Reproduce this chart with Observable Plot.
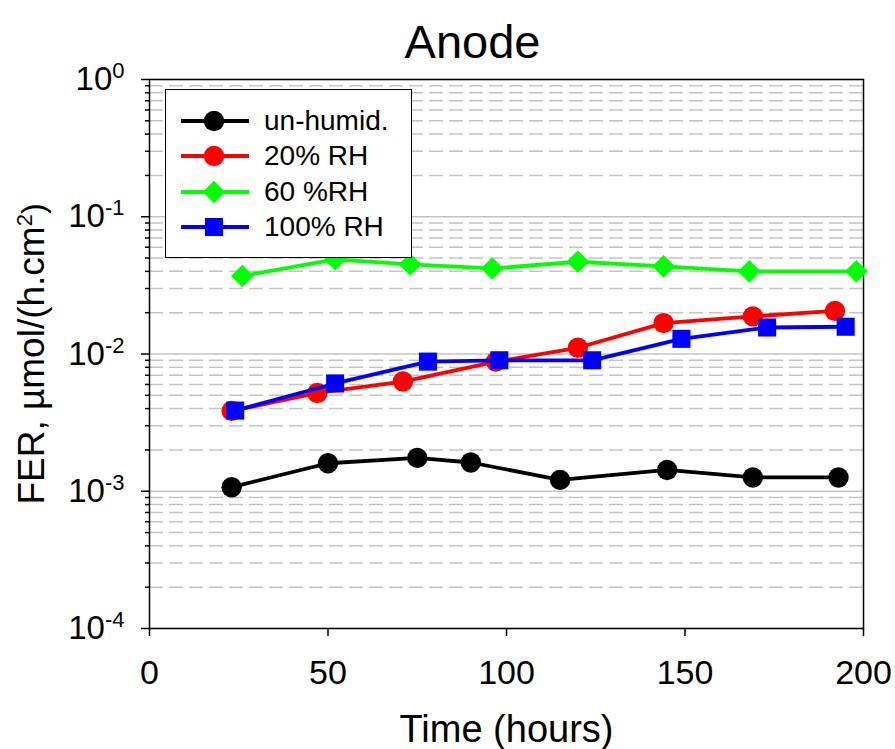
<!DOCTYPE html>
<html>
<head>
<meta charset="utf-8">
<script src="https://cdn.jsdelivr.net/npm/d3@7"></script>
<script src="https://cdn.jsdelivr.net/npm/@observablehq/plot@0.6"></script>
<style>
  html, body { margin: 0; padding: 0; background: white; }
  #wrap { position: relative; width: 895px; height: 749px; font-family: "Liberation Sans", Arial, sans-serif; }
  #legend { position: absolute; left: 165px; top: 89px; width: 247px; height: 169px; border: 1.5px solid black; background: white; padding-top: 13px; box-sizing: border-box; }
  .row { display: flex; align-items: center; height: 35.5px; }
  .row svg { flex: none; }
  .row span { font-size: 28px; color: black; margin-left: 14px; white-space: nowrap; }
</style>
</head>
<body>
<div id="wrap"></div>
<script>
// ---- Data ----
const seriesNames = ["un-humid.", "20% RH", "60 %RH", "100% RH"];
const seriesColors = ["#000000", "#ff0000", "#00ff00", "#0000ff"];
const seriesSymbols = ["circle", "circle", "diamond2", "square"];

const hoursUnhumid = [23, 50, 75, 90, 115, 145, 169, 193];
const ferUnhumid   = [1.07e-3, 1.6e-3, 1.75e-3, 1.62e-3, 1.21e-3, 1.43e-3, 1.26e-3, 1.26e-3];

const hoursRH20 = [23, 47, 71, 97, 120, 144, 169, 192];
const ferRH20   = [3.85e-3, 5.2e-3, 6.3e-3, 8.8e-3, 0.0111, 0.0168, 0.0188, 0.0206];

const hoursRH60 = [26, 52, 73, 96, 120, 144, 168, 198];
const ferRH60   = [0.037, 0.049, 0.045, 0.042, 0.047, 0.0435, 0.040, 0.040];

const hoursRH100 = [24, 52, 78, 98, 124, 149, 173, 195];
const ferRH100   = [3.87e-3, 6.1e-3, 8.8e-3, 9.0e-3, 9.0e-3, 0.0129, 0.0156, 0.0158];

const xTicks = [0, 50, 100, 150, 200];
const yMajorTicks = [1e-4, 1e-3, 1e-2, 1e-1, 1];
const yMinorMultipliers = [2, 3, 4, 5, 6, 7, 8, 9];

const titleText = "Anode";
const xLabel = "Time (hours)";
const yLabel = "FER, µmol/(h.cm^{2})";

// ---- Build tables ----
const seriesHours = [hoursUnhumid, hoursRH20, hoursRH60, hoursRH100];
const seriesFer = [ferUnhumid, ferRH20, ferRH60, ferRH100];
const series = seriesNames.map((name, i) => ({
  name, color: seriesColors[i], symbol: seriesSymbols[i],
  rows: seriesHours[i].map((t, j) => ({t, fer: seriesFer[i][j]}))
}));
const yMinorTicks = yMajorTicks.slice(0, -1).flatMap(d => yMinorMultipliers.map(m => d * m));

const gridColor = "#c4c4c4";
const marks = [
  Plot.gridY(yMinorTicks, {stroke: gridColor, strokeOpacity: 1, strokeWidth: 1.5, strokeDasharray: "14,6"}),
  Plot.gridY(yMajorTicks, {stroke: gridColor, strokeOpacity: 1, strokeWidth: 1.5}),
  Plot.axisX(xTicks, {tickSize: 8, tickPadding: 23, fontSize: 34, label: null, strokeWidth: 1.5, tickFormat: d => String(d)}),
  Plot.axisY(yMajorTicks, {tickSize: 8, tickPadding: 17, fontSize: 33, label: null, strokeWidth: 1.5,
    tickFormat: d => "10^{" + Math.round(Math.log10(d)) + "}"}),
  Plot.axisY(yMinorTicks, {tickSize: 4, label: null, strokeWidth: 1.5, tickFormat: () => ""}),
  Plot.frame({stroke: "black", strokeWidth: 1.5}),
];
for (const s of series) {
  marks.push(Plot.line(s.rows, {x: "t", y: "fer", stroke: s.color, strokeWidth: 3.8}));
  marks.push(Plot.dot(s.rows, {x: "t", y: "fer", fill: s.color, stroke: "none", symbol: s.symbol, r: 10.2}));
}
marks.push(
  Plot.text([titleText], {frameAnchor: "top", textAnchor: "middle", dx: -34, dy: -22, lineAnchor: "bottom", fontSize: 47, fill: "black"}),
  Plot.text([xLabel], {frameAnchor: "bottom", textAnchor: "middle", dy: 113, lineAnchor: "bottom", fontSize: 38, fill: "black"}),
  Plot.text([yLabel], {frameAnchor: "left", textAnchor: "middle", dx: -106, rotate: -90, lineAnchor: "bottom", fontSize: 37, fill: "black"})
);

const chart = Plot.plot({
  width: 895, height: 749,
  marginLeft: 149, marginRight: 32, marginTop: 79, marginBottom: 121,
  x: {domain: [0, 200]},
  y: {type: "log", domain: [1e-4, 1]},
  style: {fontFamily: '"Liberation Sans", Arial, sans-serif', background: "white", color: "black", overflow: "visible"},
  marks
});

// superscripts: turn "a^{b}c" into tspans
chart.querySelectorAll("text").forEach(t => {
  const s = t.textContent;
  const m = s.match(/^(.*)\^\{([^}]*)\}(.*)$/);
  if (!m) return;
  const fs = parseFloat(getComputedStyle(t).fontSize) || 32;
  const supSize = Math.round(fs * 0.7);
  const raise = Math.round(fs * 0.38);
  t.textContent = "";
  const ns = "http://www.w3.org/2000/svg";
  const a = document.createElementNS(ns, "tspan"); a.textContent = m[1]; t.appendChild(a);
  const b = document.createElementNS(ns, "tspan"); b.textContent = m[2];
  b.setAttribute("dy", -raise); b.setAttribute("font-size", supSize); t.appendChild(b);
  if (m[3]) {
    const c = document.createElementNS(ns, "tspan"); c.textContent = m[3];
    c.setAttribute("dy", raise); c.setAttribute("font-size", fs); t.appendChild(c);
  }
});

const wrap = document.getElementById("wrap");
wrap.appendChild(chart);

// legend
const legend = document.createElement("div");
legend.id = "legend";
for (const s of series) {
  const row = document.createElement("div");
  row.className = "row";
  const sym = {circle: d3.symbolCircle, diamond2: d3.symbolDiamond2, square: d3.symbolSquare}[s.symbol];
  const path = d3.symbol(sym, Math.PI * 10.2 * 10.2)();
  row.innerHTML = `<svg width="84" height="30"><line x1="15" x2="83" y1="15" y2="15" stroke="${s.color}" stroke-width="3.8"/><path transform="translate(48,15)" d="${path}" fill="${s.color}"/></svg><span>${s.name}</span>`;
  legend.appendChild(row);
}
wrap.appendChild(legend);
</script>
</body>
</html>
